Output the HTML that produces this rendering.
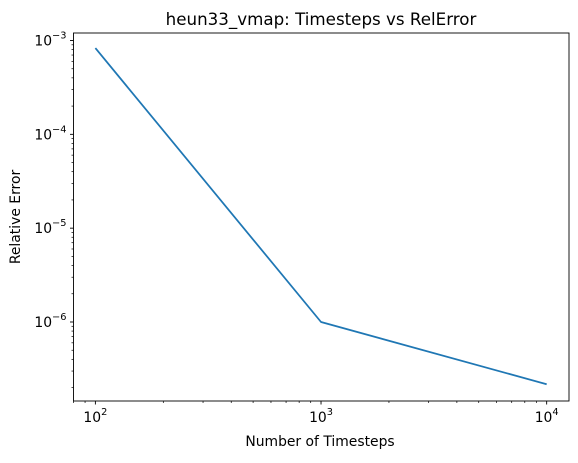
<!DOCTYPE html>
<html><head><meta charset="utf-8"><style>
body{margin:0;background:#fff;font-family:"DejaVu Sans","Liberation Sans",sans-serif;}
svg text{font-family:"DejaVu Sans","Liberation Sans",sans-serif;fill:#000;}
</style></head><body>
<svg id="chart" width="578" height="459" viewBox="0 0 578 459" xmlns="http://www.w3.org/2000/svg">
<rect width="578" height="459" fill="#fff"/>
<g id="plot"></g>
</svg>
<script>
const timesteps = [100, 1000, 10000];
const relErrors = [8.3e-4, 1.0e-6, 2.17e-7];
const xTickExps = [2, 3, 4];
const yTickExps = [-3, -4, -5, -6];

const L=73.5, R=569, T=33, B=401;
const xMin=1.903, xMax=4.099, yMin=-6.842, yMax=-2.92;
const xs = v => L + (Math.log10(v)-xMin)/(xMax-xMin)*(R-L);
const ys = v => B - (Math.log10(v)-yMin)/(yMax-yMin)*(B-T);
const NS="http://www.w3.org/2000/svg";
const g=document.getElementById('plot');
function mk(tag, attrs, parent){const e=document.createElementNS(NS,tag);for(const k in attrs)e.setAttribute(k,attrs[k]);(parent||g).appendChild(e);return e;}

const line=mk('polyline',{points:timesteps.map((t,i)=>xs(t)+','+ys(relErrors[i])).join(' '),fill:'none',stroke:'#1f77b4','stroke-width':1.75,'stroke-linejoin':'round'});



const frame=mk('rect',{x:L,y:T,width:R-L,height:B-T,fill:'none',stroke:'#000','stroke-width':0.9});



for(let d=1; d<=4; d++){for(let m=1;m<10;m++){const v=m*Math.pow(10,d);const lx=Math.log10(v);if(lx<xMin||lx>xMax)continue;const x=xs(v);mk('line',{x1:x,x2:x,y1:B,y2:B+(m===1?3.5:2),stroke:'#000','stroke-width':m===1?0.9:0.7});}}
xTickExps.forEach(e=>{const t=mk('text',{x:xs(Math.pow(10,e)),y:B+21,'font-size':13.9,'text-anchor':'middle'});


t.innerHTML='10<tspan dy="-7" font-size="9.8">'+e+'</tspan>';});

for(let d=-7; d<=-3; d++){for(let m=1;m<10;m++){const v=m*Math.pow(10,d);const ly=Math.log10(v);if(ly<yMin||ly>yMax)continue;const y=ys(v);mk('line',{x1:L,x2:L-(m===1?3.5:2),y1:y,y2:y,stroke:'#000','stroke-width':m===1?0.9:0.7});}}
yTickExps.forEach(e=>{const t=mk('text',{x:L-7,y:ys(Math.pow(10,e))+5,'font-size':13.9,'text-anchor':'end'});


t.innerHTML='10<tspan dy="-7" font-size="9.8">\u2212'+(-e)+'</tspan>';});

const title=mk('text',{x:321,y:T-8,'font-size':16.7,'text-anchor':'middle'});title.textContent='heun33_vmap: Timesteps vs RelError';


const xl=mk('text',{x:320,y:446,'font-size':13.9,'text-anchor':'middle'});xl.textContent='Number of Timesteps';


const yl=mk('text',{x:0,y:0,'font-size':13.9,'text-anchor':'middle',transform:'translate(20,'+((T+B)/2)+') rotate(-90)'});yl.textContent='Relative Error';


</script>
</body></html>
